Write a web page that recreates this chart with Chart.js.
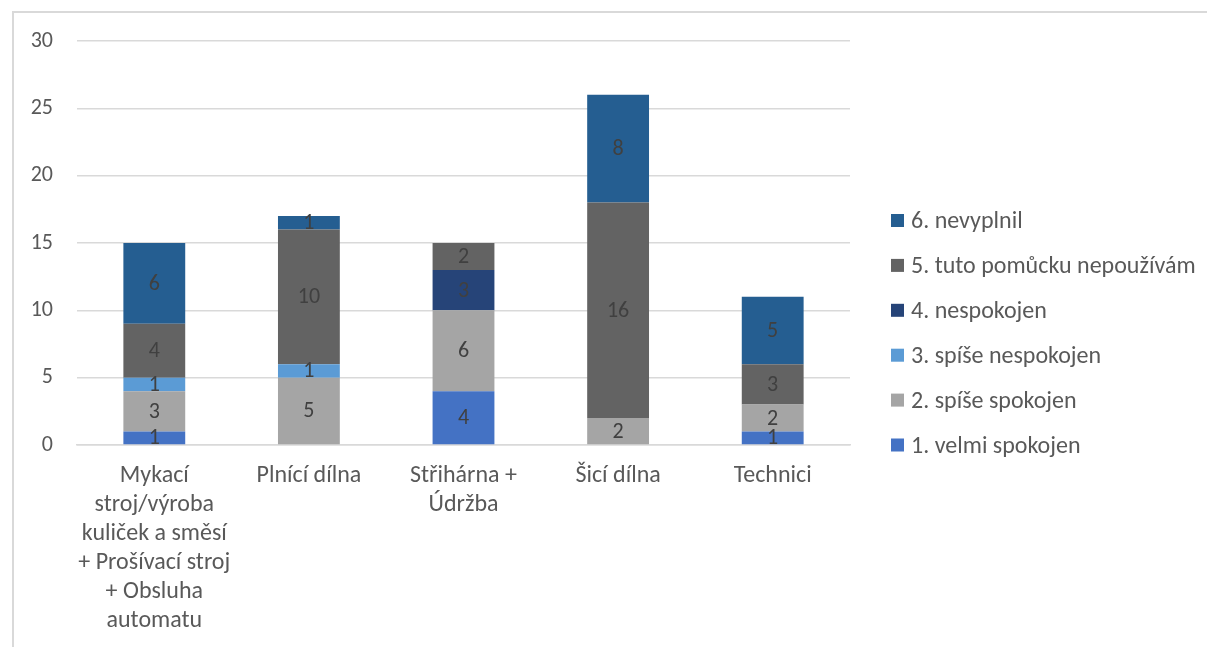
<!DOCTYPE html>
<html>
<head>
<meta charset="utf-8">
<script src="https://cdn.jsdelivr.net/npm/chart.js@4/dist/chart.umd.min.js"></script>
<style>
  body { margin: 0; overflow: hidden; background: #fff; }
  #frame { position: absolute; left: 12px; top: 11px; width: 1300px; height: 700px; border: 2px solid #d9d9d9; }
  #myChart { position: absolute; left: 0; top: 0; }
</style>
</head>
<body>
<div id="frame"></div>
<canvas id="myChart" width="1207" height="647"></canvas>
<script>
// categories (multi-line like the original axis labels)
var categories = [
    ['Mykací', 'stroj/výroba', 'kuliček a směsí', '+ Prošívací stroj', '+ Obsluha', 'automatu'],
    ['Plnící dílna'],
    ['Střihárna +', 'Údržba'],
    ['Šicí dílna'],
    ['Technici']
];

var velmiSpokojen = [1, 0, 4, 0, 1];
var spiseSpokojen = [3, 5, 6, 2, 2];
var spiseNespokojen = [1, 1, 0, 0, 0];
var nespokojen = [0, 0, 3, 0, 0];
var nepouzivam = [4, 10, 2, 16, 3];
var nevyplnil = [6, 1, 0, 8, 5];

var yTicks = [0, 5, 10, 15, 20, 25, 30];

var font = "Carlito, Lato, sans-serif";
var textColor = '#595959';

// draws the numbers inside the segments
var segmentLabels = {
    id: 'segmentLabels',
    afterDatasetsDraw: function(chart) {
        var ctx = chart.ctx;
        ctx.save();
        ctx.font = '22px ' + font;
        ctx.fillStyle = '#404040';
        ctx.textAlign = 'center';
        ctx.textBaseline = 'middle';
        chart.data.datasets.forEach(function(ds, d) {
            var meta = chart.getDatasetMeta(d);
            meta.data.forEach(function(bar, k) {
                if (!ds.data[k]) return;
                ctx.fillText(ds.data[k], bar.x, (bar.y + bar.base) / 2 + 1);
            });
        });
        ctx.restore();
    }
};

// legend on the right, last series on top
var sideLegend = {
    id: 'sideLegend',
    afterDraw: function(chart) {
        var ctx = chart.ctx;
        var ds = chart.data.datasets;
        ctx.save();
        ctx.font = '24px ' + font;
        ctx.textBaseline = 'middle';
        for (var j = 0; j < ds.length; j++) {
            var y = 221 + j * 44.9;
            var item = ds[ds.length - 1 - j];
            ctx.fillStyle = item.backgroundColor;
            ctx.fillRect(891, y - 7, 13, 13);
            ctx.fillStyle = textColor;
            ctx.fillText(item.label, 911, y + 1);
        }
        ctx.restore();
    }
};

var ctx = document.getElementById('myChart').getContext('2d');
var myBarChart = new Chart(ctx, {
    type: 'bar',
    data: {
        labels: categories,
        datasets: [
            { label: '1. velmi spokojen', data: velmiSpokojen, backgroundColor: '#4472C4' },
            { label: '2. spíše spokojen', data: spiseSpokojen, backgroundColor: '#A5A5A5' },
            { label: '3. spíše nespokojen', data: spiseNespokojen, backgroundColor: '#5B9BD5' },
            { label: '4. nespokojen', data: nespokojen, backgroundColor: '#264478' },
            { label: '5. tuto pomůcku nepoužívám', data: nepouzivam, backgroundColor: '#636363' },
            { label: '6. nevyplnil', data: nevyplnil, backgroundColor: '#255E91' }
        ]
    },
    options: {
        responsive: false,
        animation: false,
        layout: { padding: { top: 41, right: 357, left: 0, bottom: 0 } },
        datasets: { bar: { barPercentage: 0.4, categoryPercentage: 1 } },
        plugins: {
            legend: { display: false },
            tooltip: { enabled: false }
        },
        scales: {
            x: {
                stacked: true,
                grid: { display: false },
                border: { color: '#d9d9d9', width: 1.5 },
                ticks: {
                    color: textColor,
                    padding: 8,
                    maxRotation: 0,
                    autoSkip: false,
                    font: { family: font, size: 24, lineHeight: 1.21 }
                },
                afterFit: function(scale) { scale.height = 647 - 445; }
            },
            y: {
                stacked: true,
                min: 0,
                max: 30,
                afterBuildTicks: function(scale) {
                    scale.ticks = yTicks.map(function(v) { return { value: v }; });
                },
                grid: { color: '#d9d9d9', lineWidth: 1.5, drawTicks: false },
                border: { display: false },
                ticks: {
                    color: textColor,
                    padding: 24,
                    font: { family: font, size: 22 }
                },
                afterFit: function(scale) { scale.width = 77; }
            }
        }
    },
    plugins: [segmentLabels, sideLegend]
});
</script>
</body>
</html>
